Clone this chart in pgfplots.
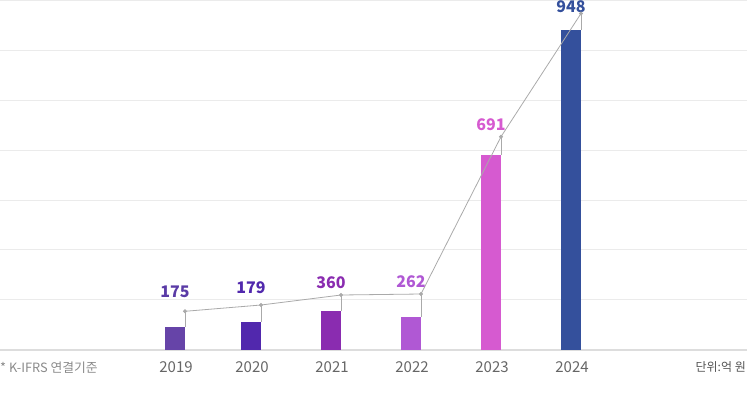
\documentclass[border=0pt]{standalone}
\usepackage{pgfplots}
\pgfplotsset{compat=1.18}
\usepackage{fontspec}
\setmainfont{Noto Sans CJK KR}
\definecolor{cA}{HTML}{6644A8}
\definecolor{cB}{HTML}{5128AD}
\definecolor{cC}{HTML}{8A2CB0}
\definecolor{cD}{HTML}{B058D4}
\definecolor{cE}{HTML}{D65AD0}
\definecolor{cF}{HTML}{34509C}
\definecolor{lA}{HTML}{5A3BA6}
\definecolor{gridc}{HTML}{EBEBEB}
\definecolor{basec}{HTML}{DDDDDD}
\definecolor{linec}{HTML}{AAAAAA}
\definecolor{yearc}{HTML}{666666}
\definecolor{notec}{HTML}{8A8A8A}
\definecolor{unitc}{HTML}{555555}
\begin{document}
\begin{tikzpicture}[x=1pt,y=1pt]
\useasboundingbox (0,0) rectangle (750,392);
\begin{axis}[
  at={(0,0)}, anchor=south west,
  scale only axis, width=750pt, height=392pt,
  xmin=0, xmax=750, ymin=-42, ymax=350,
  hide axis, clip=false,
]
% grid
\pgfplotsinvokeforeach{50.5,100.5,150,199.8,249.5,299.3,349.3}{
  \draw[gridc, line width=1pt] (axis cs:0,#1) -- (axis cs:747,#1);
}
\draw[basec, line width=2pt] (axis cs:0,0) -- (axis cs:747,0);
% bars
\addplot[ybar, bar width=20, bar shift=0pt, fill=cA, draw=none] coordinates {(175,23.3)};
\addplot[ybar, bar width=20, bar shift=0pt, fill=cB, draw=none] coordinates {(251,28.3)};
\addplot[ybar, bar width=20, bar shift=0pt, fill=cC, draw=none] coordinates {(331,39)};
\addplot[ybar, bar width=20, bar shift=0pt, fill=cD, draw=none] coordinates {(411,33)};
\addplot[ybar, bar width=20, bar shift=0pt, fill=cE, draw=none] coordinates {(491,195)};
\addplot[ybar, bar width=20, bar shift=0pt, fill=cF, draw=none] coordinates {(571,320)};
% connectors
\addplot[linec, line width=1pt, unbounded coords=jump, forget plot] coordinates {
  (185,23.3)(185,38.7)(185,nan)
  (261,28.3)(261,45)(261,nan)
  (341,39)(341,55)(341,nan)
  (421,33)(421,56)(421,nan)
  (501,195)(501,213.3)(501,nan)
  (581,320)(581,336.5)};
% trend line
\addplot[linec, line width=0.8pt, mark=*, mark size=1.6pt, mark options={fill=linec, draw=none}] coordinates {
  (185,38.7)(261,45)(341,55)(421,56)(501,213.3)(581,336.5)};
% value labels
\tikzset{vl/.style={font=\bfseries\fontsize{16}{16}\selectfont, inner sep=0pt}}
\node[vl, text=lA] at (axis cs:175,58) {175};
\node[vl, text=cB] at (axis cs:251,62.5) {179};
\node[vl, text=cC] at (axis cs:331,67.5) {360};
\node[vl, text=cD] at (axis cs:411,68.7) {262};
\node[vl, text=cE] at (axis cs:491,225.3) {691};
\node[vl, text=cF] at (axis cs:571,343.2) {948};
% year labels
\tikzset{yl/.style={font=\fontsize{15}{15}\selectfont, inner sep=0pt, text=yearc}}
\node[yl] at (axis cs:176,-16.7) {2019};
\node[yl] at (axis cs:252,-16.7) {2020};
\node[yl] at (axis cs:332,-16.7) {2021};
\node[yl] at (axis cs:412,-16.7) {2022};
\node[yl] at (axis cs:492,-16.7) {2023};
\node[yl] at (axis cs:572,-16.7) {2024};
% notes
\node[anchor=west, inner sep=0pt, text=notec, font=\fontsize{12.8}{12.8}\selectfont] at (axis cs:0,-17.5) {* K-IFRS 연결기준};
\node[anchor=east, inner sep=0pt, text=unitc, font=\fontsize{12}{12}\selectfont] at (axis cs:746,-17.5) {단위:억 원};
\end{axis}
\end{tikzpicture}
\end{document}
